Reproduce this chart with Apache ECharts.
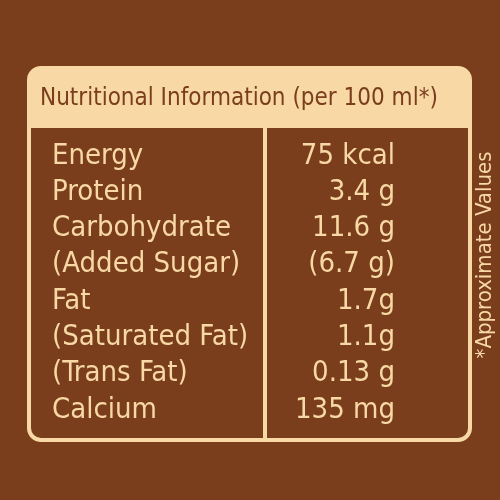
<!DOCTYPE html>
<html><head><meta charset="utf-8">
<script src="https://cdn.jsdelivr.net/npm/echarts@6/dist/echarts.min.js"></script>
<style>html,body{margin:0;padding:0;background:#7a3e1c}#c{width:500px;height:500px}</style>
</head><body><div id="c"></div>
<script>
const title = "Nutritional Information (per 100 ml*)";
const nutrients = ["Energy","Protein","Carbohydrate","(Added Sugar)","Fat","(Saturated Fat)","(Trans Fat)","Calcium"];
const amounts = ["75 kcal","3.4 g","11.6 g","(6.7 g)","1.7g","1.1g","0.13 g","135 mg"];
const note = "*Approximate Values";

const font = '"Liberation Sans Narrow","DejaVu Sans Condensed","Roboto Condensed",sans-serif';
const cream = '#f8d8a5', brown = '#7a3e1c';
const chart = echarts.init(document.getElementById('c'));
const g = [
  {type:'rect', shape:{x:0,y:0,width:500,height:500}, style:{fill:brown}},
  {type:'rect', shape:{x:29,y:68,width:441,height:372,r:12}, style:{fill:'none',stroke:cream,lineWidth:4}},
  {type:'rect', shape:{x:29,y:68,width:441,height:60,r:[12,12,0,0]}, style:{fill:cream}},
  {type:'line', shape:{x1:265,y1:128,x2:265,y2:440}, style:{stroke:cream,lineWidth:4}},
  {type:'text', x:40, y:99, style:{text:title, fill:brown, font:'24px '+font, verticalAlign:'middle'}},
  {type:'text', x:485, y:255, rotation:Math.PI/2, style:{text:note, fill:cream, font:'22px '+font, align:'center', verticalAlign:'middle'}}
];
nutrients.forEach((n,i)=>{
  const y = 156 + i*36.3;
  g.push({type:'text', x:52, y:y, style:{text:n, fill:cream, font:'29px '+font, verticalAlign:'middle'}});
  g.push({type:'text', x:395, y:y, style:{text:amounts[i], fill:cream, font:'29px '+font, align:'right', verticalAlign:'middle'}});
});
chart.setOption({animation:false, graphic:{elements:g}});
</script></body></html>
